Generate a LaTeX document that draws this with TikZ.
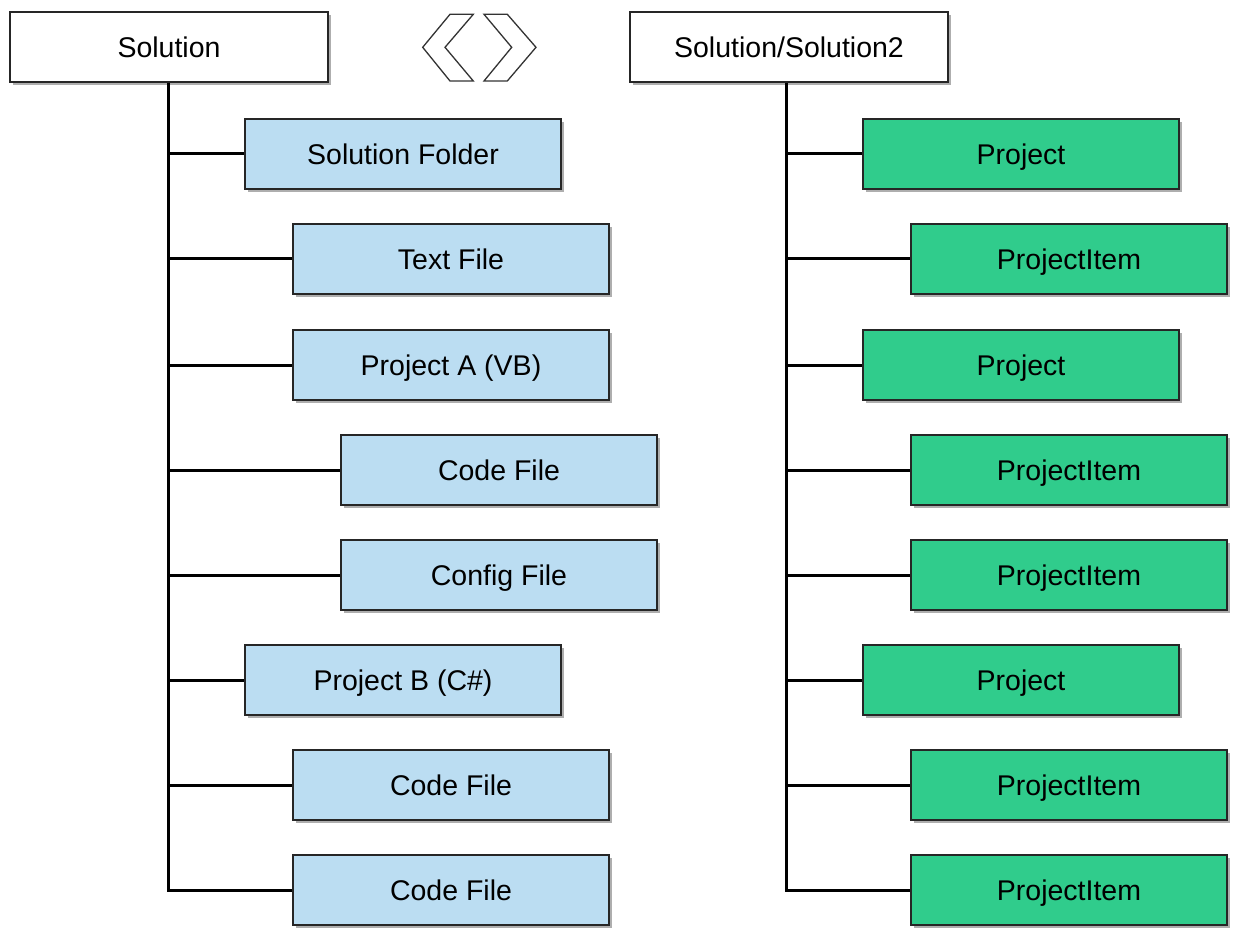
\documentclass[tikz,border=0pt]{standalone}
\usepackage{fontspec}
\setmainfont{Liberation Sans}
\usetikzlibrary{shadows}
\definecolor{boxblue}{RGB}{187,221,242}
\definecolor{boxgreen}{RGB}{48,204,140}
\begin{document}
\begin{tikzpicture}[x=1pt,y=-1pt,
  base/.style={draw=black!85,line width=2pt,minimum height=70pt,minimum width=316pt,inner sep=0pt,
    font=\fontsize{28.5}{32}\selectfont,text height=20.5pt,text depth=0pt,
    drop shadow={shadow xshift=3pt,shadow yshift=-3pt,fill=black!45,opacity=0.7}},
  rootbox/.style={base,fill=white,minimum width=318pt},
  bluebox/.style={base,fill=boxblue},
  greenbox/.style={base,fill=boxgreen},
  chev/.style={line width=1.3pt,black!80,line join=miter},
  link/.style={line width=3pt,black}]
\useasboundingbox (0,0) rectangle (1235,928);
\fill[white] (0,0) rectangle (1235,928);
% roots
\node[rootbox] (sol) at (169,47) {Solution};
\node[rootbox] (sol2) at (789,47) {Solution/Solution2};
% chevrons
\draw[chev] (450,14.3) -- (473.3,14.3) -- (445,47.3) -- (473.3,81) -- (450,81) -- (422.7,47.3) -- cycle;
\draw[chev] (484,14.3) -- (507.3,14.3) -- (536,47.3) -- (507.3,81) -- (484,81) -- (511.7,47.3) -- cycle;
% left column
\node[bluebox] (a1) at (403,154) {Solution Folder};
\node[bluebox] (a2) at (451,259) {Text File};
\node[bluebox] (a3) at (451,365) {Project A (VB)};
\node[bluebox] (a4) at (499,470) {Code File};
\node[bluebox] (a5) at (499,575) {Config File};
\node[bluebox] (a6) at (403,680) {Project B (C\#)};
\node[bluebox] (a7) at (451,785) {Code File};
\node[bluebox] (a8) at (451,890) {Code File};
% right column
\node[greenbox] (b1) at (1021,154) {Project};
\node[greenbox] (b2) at (1069,259) {ProjectItem};
\node[greenbox] (b3) at (1021,365) {Project};
\node[greenbox] (b4) at (1069,470) {ProjectItem};
\node[greenbox] (b5) at (1069,575) {ProjectItem};
\node[greenbox] (b6) at (1021,680) {Project};
\node[greenbox] (b7) at (1069,785) {ProjectItem};
\node[greenbox] (b8) at (1069,890) {ProjectItem};
% connectors
\draw[link] ([xshift=-1pt]sol.south) |- (a8.west);
\foreach \n in {a1,a2,a3,a4,a5,a6,a7}
  \draw[link] ([xshift=-1pt]sol.south |- \n.west) -- (\n.west);
\draw[link] ([xshift=-3pt]sol2.south) |- (b8.west);
\foreach \n in {b1,b2,b3,b4,b5,b6,b7}
  \draw[link] ([xshift=-3pt]sol2.south |- \n.west) -- (\n.west);
\end{tikzpicture}
\end{document}
